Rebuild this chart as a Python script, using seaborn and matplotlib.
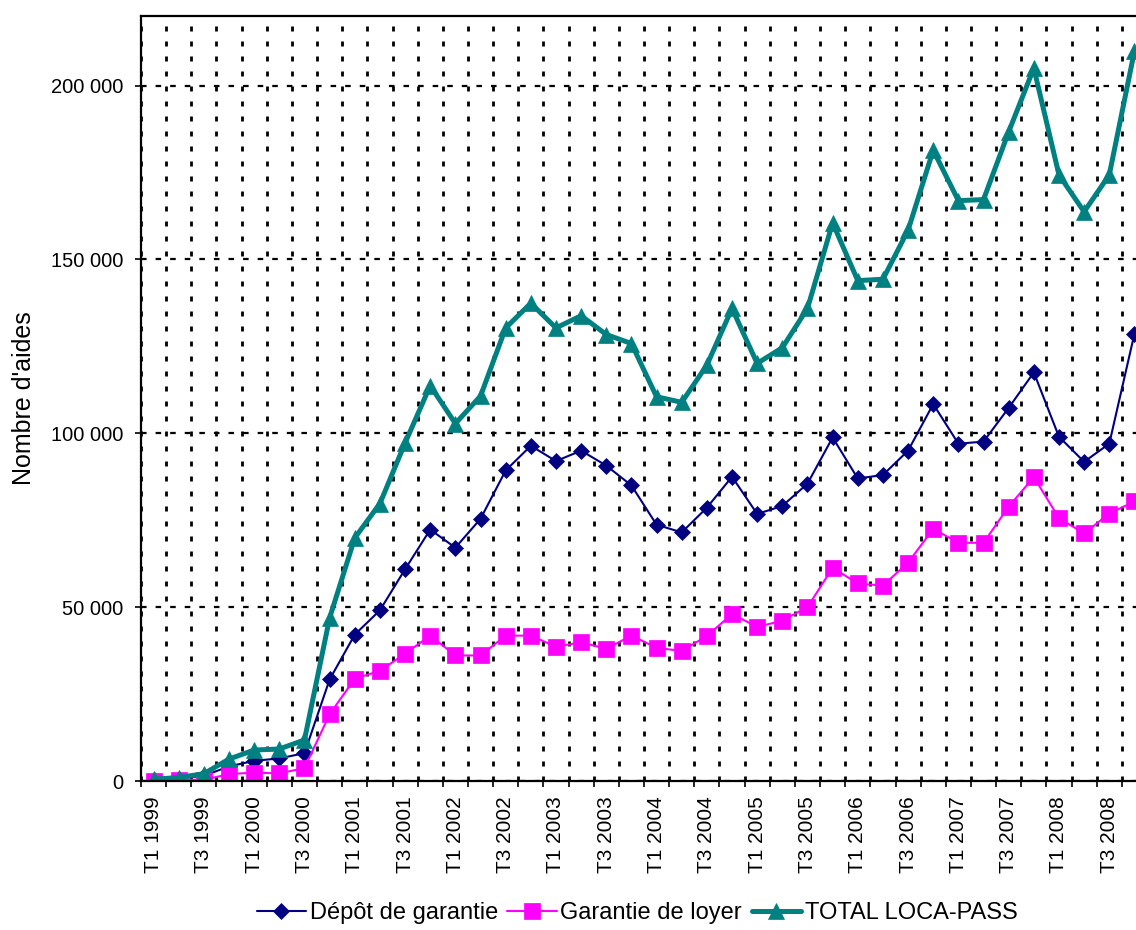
import numpy as np
import pandas as pd
import matplotlib
matplotlib.use("Agg")
import matplotlib.pyplot as plt
import seaborn as sns
from matplotlib.ticker import FuncFormatter

# Trimestres T1 1999 -> T4 2008
annees = [1999, 2000, 2001, 2002, 2003, 2004, 2005, 2006, 2007, 2008]
trimestres = [f"T{t} {a}" for a in annees for t in (1, 2, 3, 4)]

# Nombre d'aides par trimestre
depot = [300, 700, 1500, 4200, 5800, 6500, 8000, 29200, 42100, 49100,
         60900, 72300, 67100, 75400, 89300, 96400, 92000, 95000, 90700, 85000,
         73700, 71500, 78600, 87500, 76800, 79100, 85500, 98800, 87000, 88000,
         95000, 108400, 97000, 97600, 107300, 117500, 99000, 91800, 97000, 128600]
garantie = [100, 400, 300, 2000, 2400, 2200, 3700, 19200, 29400, 31700,
            36600, 41800, 36100, 36100, 41800, 41800, 38600, 39900, 38000, 41800,
            38300, 37400, 41700, 48000, 44300, 46100, 50000, 61300, 56800, 56200,
            62800, 72500, 68500, 68500, 78900, 87400, 75600, 71200, 76900, 80400]
total = [500, 1000, 2100, 6300, 8900, 9200, 11800, 46900, 69900, 79800,
         97200, 113700, 102800, 110700, 130300, 137400, 130300, 133800, 128400, 125800,
         110500, 108900, 119600, 135900, 120100, 124600, 135900, 160500, 143900, 144300,
         158400, 181400, 166900, 167200, 186700, 205000, 174300, 163700, 174300, 209900]

y_ticks = [0, 50000, 100000, 150000, 200000]

sns.set_theme(style="white")
plt.rcParams["font.family"] = ["Liberation Sans", "DejaVu Sans"]
plt.rcParams["lines.scale_dashes"] = False
plt.rcParams["text.color"] = "black"
plt.rcParams["axes.labelcolor"] = "black"

df = pd.DataFrame({"trimestre": trimestres, "pos": np.arange(len(trimestres)),
                   "depot": depot, "garantie": garantie, "total": total})

fig = plt.figure(figsize=(11.36, 9.30), dpi=100)
# l'axe depasse a droite : le graphique d'origine est coupe
ax = fig.add_axes([141 / 1136, 149 / 930, 1006 / 1136, 765 / 930])

series = [
    ("Dépôt de garantie", "depot", "#000080", "D", 8, 1.5),
    ("Garantie de loyer", "garantie", "#FF00FF", "s", 12, 1.5),
    ("TOTAL LOCA-PASS", "total", "#008080", "^", 11.5, 3.6),
]
for nom, col, couleur, marq, taille, epais in series:
    sns.lineplot(data=df, x="pos", y=col, ax=ax, color=couleur, marker=marq,
                 markersize=taille, linewidth=epais, markeredgecolor=couleur,
                 markeredgewidth=0.5, label=nom)

ax.set_xlim(-0.5, len(trimestres) - 0.5)
ax.set_ylim(0, 220000)

# ticks et grille verticale aux limites des trimestres
ax.set_xticks(np.arange(-0.5, len(trimestres), 1))
ax.set_xticklabels([])
ax.set_xticks(np.arange(0, len(trimestres), 2), minor=True)
ax.set_xticklabels(trimestres[::2], minor=True, rotation=90, fontsize=15)
ax.tick_params(axis="x", which="major", direction="out", length=4, width=1.2,
               color="black", bottom=True)
ax.tick_params(axis="x", which="minor", length=0, pad=11, colors="black", bottom=True)

ax.set_yticks(y_ticks)
ax.yaxis.set_major_formatter(FuncFormatter(lambda v, p: f"{int(v):,}".replace(",", " ")))
ax.tick_params(axis="y", direction="out", length=4.5, width=1.2, pad=8,
               labelsize=14.5, colors="black", left=True)

ax.set_axisbelow(True)
ax.grid(True, axis="y", which="major", color="black", linestyle=(0, (4, 6.5)), linewidth=1.6)
ax.grid(True, axis="x", which="major", color="black", linestyle=(0, (3.6, 7.2)), linewidth=2.0)

for s in ax.spines.values():
    s.set_visible(True)
    s.set_color("black")
    s.set_linewidth(1.6)

ax.set_xlabel("")
ax.set_ylabel("Nombre d'aides", fontsize=18, color="black")
ax.yaxis.set_label_coords(-0.104, 0.5)

handles, labels = ax.get_legend_handles_labels()
ax.get_legend().remove()
fig.legend(handles, labels, loc="center", bbox_to_anchor=(637 / 1136, 17 / 930),
           ncol=3, frameon=False, fontsize=17, handlelength=2.1,
           handletextpad=0.15, columnspacing=0.4, labelcolor="black")

fig.savefig("out.png", dpi=100)
